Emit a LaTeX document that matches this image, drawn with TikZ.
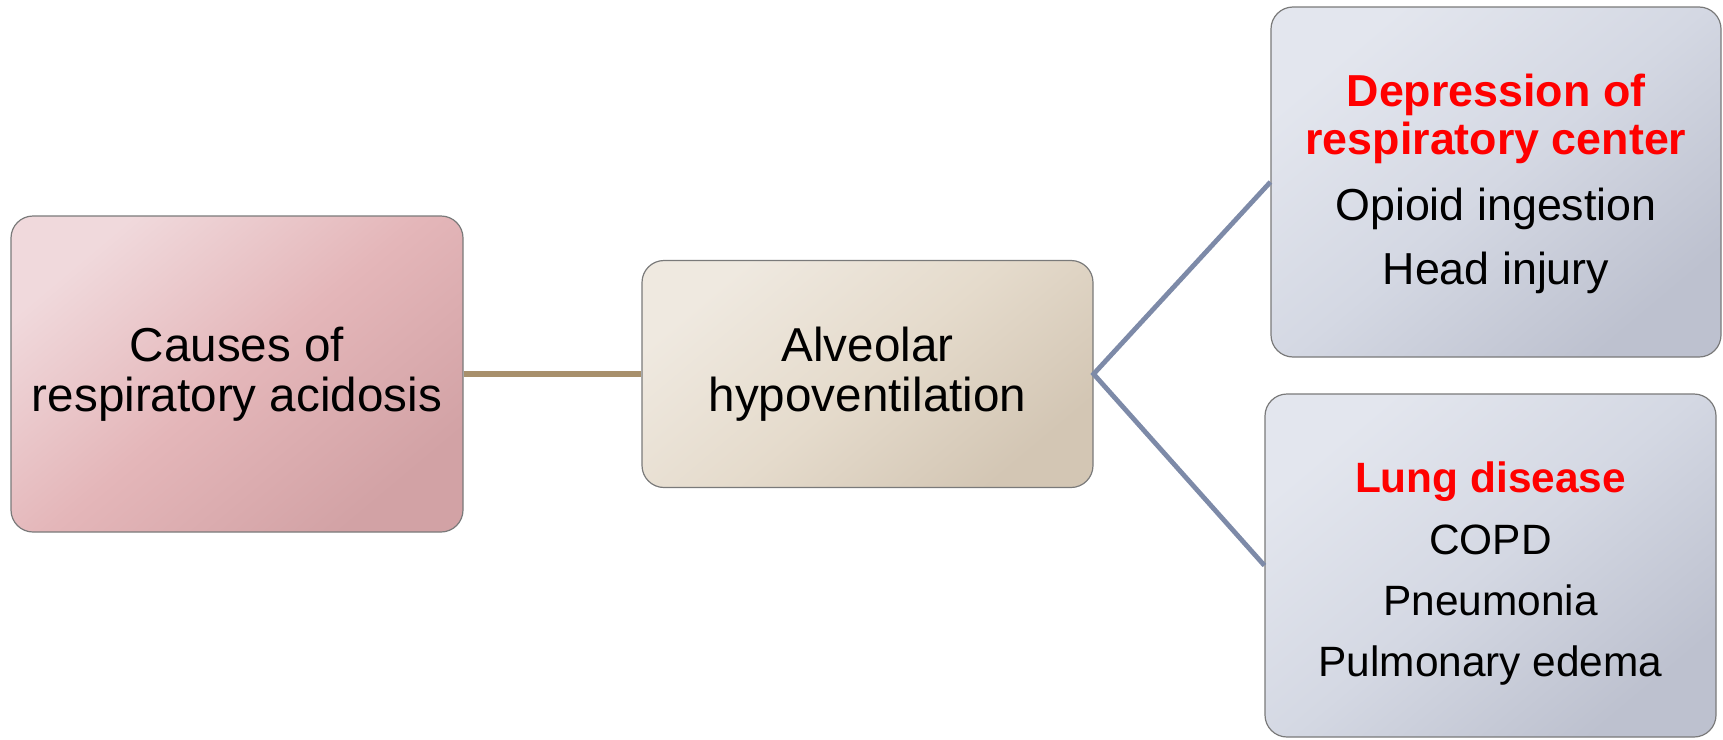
\documentclass[tikz,border=0pt]{standalone}
\usepackage{fontspec}
\setmainfont{Liberation Sans}
\definecolor{pinkA}{HTML}{F0D9DC}
\definecolor{pinkB}{HTML}{E4B6B9}
\definecolor{pinkC}{HTML}{D2A2A5}
\definecolor{tanA}{HTML}{EFE9E0}
\definecolor{tanB}{HTML}{E5DBCC}
\definecolor{tanC}{HTML}{D3C6B4}
\definecolor{blueA}{HTML}{E3E6EE}
\definecolor{blueB}{HTML}{D4D8E3}
\definecolor{blueC}{HTML}{BDC1CF}
\definecolor{tanline}{HTML}{A8906C}
\definecolor{blueline}{HTML}{7D8AA8}
\definecolor{boxline}{HTML}{7A7A7A}
\definecolor{headred}{HTML}{FF0000}
\tikzset{
  card/.style={draw=boxline, line width=0.6pt, rounded corners=11pt, align=center, inner sep=0pt},
  bigtext/.style={font=\fontsize{23.8}{25.2}\selectfont},
  smalltext/.style={font=\fontsize{22.4}{24}\selectfont},
  lungtext/.style={font=\fontsize{21.2}{24}\selectfont},
  tanlink/.style={draw=tanline, line width=2.6pt},
  bluelink/.style={draw=blueline, line width=2.4pt},
  pinkfill/.style={top color=pinkA, bottom color=pinkC, middle color=pinkB, shading angle=40},
  tanfill/.style={top color=tanA, bottom color=tanC, middle color=tanB, shading angle=40},
  bluefill/.style={top color=blueA, bottom color=blueC, middle color=blueB, shading angle=40},
}
\newcommand{\redhead}[1]{\textcolor{headred}{\bfseries #1}}
\begin{document}
\begin{tikzpicture}[x=0.5pt,y=-0.5pt]
\useasboundingbox (0,0) rectangle (1723,739);
\node[card, bigtext, pinkfill,
      minimum width=226pt, minimum height=158pt] (cause) at (237,374)
  {Causes of\\respiratory acidosis};
\node[card, bigtext, tanfill,
      minimum width=225.5pt, minimum height=113.5pt] (alv) at (867.5,374)
  {Alveolar\\hypoventilation};
\node[card, smalltext, bluefill,
      minimum width=225pt, minimum height=175pt] (dep) at (1496,182)
  {\rule{0pt}{18.3pt}\redhead{Depression of}\\\redhead{respiratory center}\\[8.6pt]Opioid ingestion\\[8.2pt]Head injury};
\node[card, lungtext, bluefill,
      minimum width=225.5pt, minimum height=171.5pt] (lung) at (1490.5,565.5)
  {\rule{0pt}{23pt}\redhead{Lung disease}\\[7pt]COPD\\[6.5pt]Pneumonia\\[6.5pt]Pulmonary edema};
\draw[tanlink] (cause.east) -- (alv.west);
\draw[bluelink, line join=miter] (dep.west) -- (alv.east) -- (lung.west);
\end{tikzpicture}
\end{document}
